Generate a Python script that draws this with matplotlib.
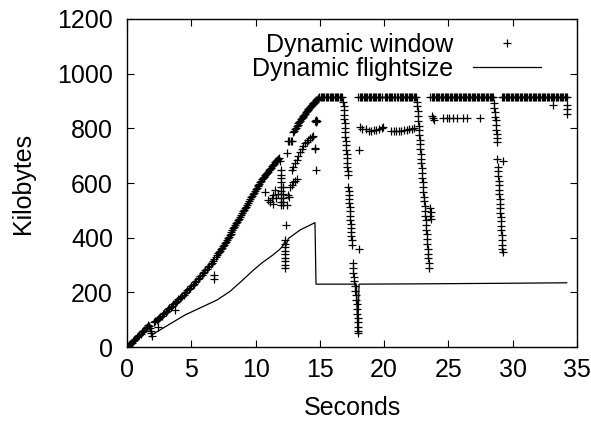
import numpy as np
import matplotlib
matplotlib.use("Agg")
import matplotlib.pyplot as plt

# Dynamic window samples (seconds, KB)
ramp_t = [0.05, 0.15, 0.25, 0.35, 0.45, 0.55, 0.65, 0.75, 0.85, 0.95, 1.05,
          1.15, 1.25, 1.35, 1.45, 1.55, 1.65,
          1.72, 1.78, 1.84, 1.9, 1.97,
          2.1, 2.2, 2.3, 2.4, 2.5, 2.6, 2.7, 2.8, 2.9, 3.0, 3.1, 3.2, 3.3, 3.4,
          3.5, 3.6, 3.7, 3.8, 3.9, 4.0, 4.1, 4.2, 4.3, 4.4, 4.5, 4.6, 4.7, 4.8,
          4.9, 5.0, 5.1, 5.2, 5.3, 5.4, 5.5, 5.6, 5.7, 5.8, 5.9, 6.0, 6.1, 6.2,
          6.3, 6.4, 6.5, 6.6, 6.7, 6.8, 6.9, 7.0,
          7.08, 7.15, 7.22, 7.3, 7.38, 7.45, 7.52, 7.6, 7.68, 7.75, 7.82, 7.9,
          7.98, 8.05, 8.12, 8.2, 8.28, 8.35, 8.42, 8.5, 8.58, 8.65, 8.72, 8.8,
          8.88, 8.95, 9.02, 9.1, 9.18, 9.25, 9.32, 9.4, 9.48, 9.55, 9.62, 9.7,
          9.78, 9.85, 9.92, 10.0, 10.08, 10.15, 10.22, 10.3, 10.38, 10.45,
          10.52, 10.6, 10.68, 10.75, 10.82, 10.9, 10.98, 11.05, 11.12, 11.2,
          11.28, 11.35, 11.42, 11.5, 11.58, 11.65, 11.72, 11.8, 11.9]
ramp_kb = [3, 7, 12, 16, 21, 26, 30, 35, 40, 44, 49,
           54, 58, 63, 69, 74, 82,
           78, 70, 60, 50, 41,
           92, 95, 99, 103, 107, 111, 115, 119, 124, 129, 133, 138, 142, 147,
           151, 156, 160, 165, 169, 174, 178, 183, 187, 192, 197, 202, 207, 212,
           217, 222, 227, 232, 237, 243, 248, 253, 258, 264, 269, 275, 280, 286,
           291, 297, 303, 309, 315, 322, 329, 336,
           343, 348, 353, 358, 364, 369, 375, 380, 386, 392, 397, 403,
           409, 415, 421, 427, 434, 440, 446, 452, 458, 464, 470, 476,
           483, 489, 496, 502, 508, 514, 520, 527, 534, 540, 547, 553,
           559, 565, 571, 577, 583, 588, 593, 598, 603, 608,
           613, 618, 623, 628, 632, 637, 641, 646, 651, 656,
           661, 666, 671, 676, 681, 685, 688, 690, 680]

scatter_t = [2.43, 3.73, 6.8, 6.8,
             10.73, 10.99, 11.12, 11.25, 11.38, 11.38, 11.51, 11.6, 11.77,
             11.98, 11.98, 11.98, 11.98, 11.98, 11.98, 11.98, 11.98, 11.98, 11.98,
             12.16, 12.16, 12.16, 12.16, 12.16,
             12.42, 12.42, 12.55, 12.6,
             12.68, 12.81, 12.94, 13.07, 13.2,
             12.5, 12.62, 12.74, 12.86,
             14.7, 14.7, 14.7, 14.66, 14.74, 14.62, 14.62, 14.7,
             12.34, 12.25, 12.25, 12.25, 12.25, 12.25, 12.25, 12.25, 12.25, 12.25]
scatter_kb = [74, 135, 263, 248,
              568, 537, 530, 544, 556, 525, 574, 545, 560,
              647, 630, 617, 603, 585, 572, 558, 545, 532, 519,
              585, 560, 545, 530, 519,
              519, 708, 556, 548,
              586, 594, 602, 608, 615,
              753, 753, 753, 753,
              822, 827, 832, 827, 827, 726, 729, 649,
              446, 390, 378, 365, 352, 340, 327, 315, 300, 288]

lower_t = [12.81, 12.94, 13.07, 13.2, 13.33, 13.46, 13.6, 13.72, 13.85, 13.97,
           14.1, 14.23, 14.36, 14.5]
lower_kb = [647, 660, 672, 685, 700, 714, 726, 736, 745, 751,
            758, 764, 769, 773]

upper_t = [12.94, 13.0, 13.07, 13.14, 13.2, 13.27, 13.33, 13.4, 13.46, 13.53,
           13.6, 13.66, 13.72, 13.79, 13.85, 13.91, 13.97, 14.04, 14.1, 14.17,
           14.23, 14.3, 14.36, 14.43, 14.49, 14.55, 14.62, 14.68, 14.75, 14.82,
           14.88]
upper_kb = [787, 792, 798, 803, 808, 813, 818, 823, 828, 833,
            838, 842, 846, 850, 854, 858, 862, 866, 870, 874,
            878, 882, 885, 888, 891, 895, 898, 902, 905, 909,
            912]

top_t = [14.95, 15.05, 15.15, 15.25, 15.35, 15.45, 15.55, 15.65, 15.75, 15.85,
         15.95, 16.05, 16.15, 16.25, 16.35, 16.45, 16.55, 16.65, 16.72,
         18.0, 18.1, 18.2, 18.3, 18.4, 18.5, 18.6, 18.7, 18.8, 18.9, 19.0,
         19.1, 19.2, 19.3, 19.4, 19.5, 19.6, 19.7, 19.8, 20.05, 20.15, 20.25,
         20.35, 20.45, 20.55, 20.65, 20.75, 20.85, 21.0, 21.1, 21.2, 21.3,
         21.4, 21.5, 21.6, 21.7, 21.8, 21.9, 22.0, 22.1, 22.2, 22.3, 22.4, 22.5,
         23.6, 23.7, 23.8, 23.9, 24.0, 24.1, 24.2, 24.3, 24.4, 24.5, 24.6, 24.7,
         24.8, 24.9, 25.0, 25.1, 25.2, 25.3, 25.4, 25.5, 25.6, 25.7, 25.8, 25.9,
         26.0, 26.1, 26.2, 26.3, 26.4, 26.5, 26.6, 26.7, 26.8, 26.9, 27.0, 27.1,
         27.2, 27.3, 27.4, 27.5, 27.6, 27.7, 27.8, 27.9, 28.0, 28.1, 28.2, 28.3,
         28.4, 28.5,
         29.15, 29.25, 29.35, 29.45, 29.55, 29.65, 29.75, 29.85, 29.95, 30.05,
         30.15, 30.25, 30.35, 30.45, 30.55, 30.65, 30.75, 30.85, 30.95, 31.05,
         31.15, 31.25, 31.35, 31.45, 31.55, 31.65, 31.75, 31.85, 31.95, 32.05,
         32.15, 32.25, 32.35, 32.45, 32.55, 32.65, 32.75, 32.85, 32.95, 33.05,
         33.15, 33.25, 33.35, 33.45, 33.55, 33.65, 33.75, 33.85, 33.95, 34.05,
         34.15, 34.2]
top_kb = [913] * len(top_t)

drop1_t = [16.82, 16.84, 16.86, 16.88, 16.9, 16.92, 16.94, 16.96, 16.98, 17.0,
           17.02, 17.05, 17.08, 17.1, 17.13, 17.15, 17.18, 17.2,
           17.22, 17.24, 17.26, 17.28, 17.3, 17.32, 17.34, 17.36, 17.38, 17.4,
           17.42, 17.44, 17.46, 17.48, 17.5,
           18.05, 18.07,
           17.55, 17.58, 17.6, 17.65, 17.68, 17.72, 17.76, 17.8, 17.84, 17.87,
           17.9, 17.92, 17.94, 17.96, 17.97, 17.99, 18.0]
drop1_kb = [897, 882, 866, 850, 834, 818, 802, 786, 770, 754,
            738, 722, 706, 690, 674, 658, 643, 629,
            586, 571, 556, 541, 526, 511, 496, 481, 466, 451, 436,
            421, 406, 391, 375,
            357, 720,
            306, 290, 272, 255, 240, 222, 205, 190, 172, 158,
            140, 122, 105, 90, 75, 60, 50]

row2_t = [18.1, 18.3, 18.6, 18.8, 19.0, 19.2, 19.4, 19.6, 19.8, 19.95,
          20.55, 20.75, 20.95, 21.15, 21.35, 21.55, 21.75, 21.95, 22.15, 22.3]
row2_kb = [806, 799, 796, 792, 790, 793, 795, 798, 802, 806,
           789, 790, 790, 791, 792, 793, 795, 796, 798, 800]

drop2_t = [22.55, 22.58, 22.6, 22.63, 22.66, 22.68, 22.71, 22.74, 22.76, 22.79,
           22.82, 22.84, 22.87, 22.9, 22.92, 22.95, 22.98, 23.0, 23.03, 23.06,
           23.08, 23.11, 23.14, 23.16, 23.19, 23.22, 23.24, 23.27, 23.3, 23.32,
           23.35, 23.38, 23.4, 23.43, 23.46, 23.49,
           23.6, 23.64, 23.6, 23.64]
drop2_kb = [897, 880, 862, 845, 828, 810, 793, 776, 758, 741,
            724, 706, 689, 672, 654, 637, 620, 602, 585, 568,
            550, 533, 516, 498, 481, 464, 446, 429, 412, 394,
            377, 360, 342, 325, 308, 290,
            508, 495, 480, 470]

row3_t = [23.7, 23.8, 23.9, 24.6, 24.87, 25.07, 25.38, 25.64, 26.16, 26.42, 27.46]
row3_kb = [845, 838, 832, 836, 836, 836, 836, 836, 836, 836, 836]

drop3_t = [28.55, 28.58, 28.6, 28.65, 28.68, 28.7, 28.72, 28.74, 28.75, 28.76,
           28.8, 29.22, 28.85, 28.87, 28.88, 28.9, 28.92, 28.94, 28.96, 28.98,
           29.0, 29.04, 29.05, 29.06, 29.08, 29.1, 29.12, 29.14, 29.16, 29.18,
           29.2, 29.22,
           33.16, 34.2, 34.2, 34.2]
drop3_kb = [891, 875, 860, 843, 830, 812, 795, 780, 765, 751,
            687, 681, 660, 645, 625, 608, 592, 575, 560, 543,
            525, 507, 490, 476, 460, 444, 428, 410, 391, 375,
            360, 348,
            885, 885, 869, 851]

# Dynamic flightsize line
flight_t = [0, 1.75, 1.95, 4.5, 7.0, 8.0, 9.0, 9.8, 10.5, 11.3, 11.9, 12.16,
            12.29, 12.38, 12.55, 13.46, 14.62, 14.7, 17.85, 17.95, 18.05, 22.5,
            29.0, 34.2]
flight_kb = [0, 75, 45, 117, 172, 203, 245, 280, 308, 335, 358, 373,
             389, 372, 397, 428, 455, 230, 230, 50, 230, 231,
             233, 235]

win_t = np.concatenate([ramp_t, scatter_t, lower_t, upper_t, top_t, drop1_t,
                        row2_t, drop2_t, row3_t, drop3_t])
win_kb = np.concatenate([ramp_kb, scatter_kb, lower_kb, upper_kb, top_kb,
                         drop1_kb, row2_kb, drop2_kb, row3_kb, drop3_kb])

plt.rcParams['font.family'] = ['Liberation Sans', 'DejaVu Sans']
fs = 18

fig = plt.figure(figsize=(5.91, 4.25), dpi=100)
ax = fig.add_axes([0.2149, 0.1835, 0.9763 - 0.2149, 0.9553 - 0.1835])

ax.plot(win_t, win_kb, linestyle='none', marker='+', color='black',
        markersize=5.5, markeredgewidth=0.9, label='Dynamic window')
ax.plot(flight_t, flight_kb, color='black', linewidth=0.9,
        label='Dynamic flightsize')

ax.set_xlim(0, 35)
ax.set_ylim(0, 1200)
ax.set_xticks(range(0, 36, 5))
ax.set_yticks(range(0, 1201, 200))
ax.tick_params(direction='in', length=5, width=0.8, top=True, right=True,
               labelsize=fs)
ax.tick_params(axis='y', pad=10)
ax.tick_params(axis='x', pad=8)
for s in ax.spines.values():
    s.set_linewidth(1.0)

ax.set_xlabel('Seconds', fontsize=fs, labelpad=10)
ax.set_ylabel('Kilobytes', fontsize=fs, labelpad=16)

ax.legend(loc='upper right', frameon=False, markerfirst=False, numpoints=1,
          fontsize=fs, handlelength=2.7, handletextpad=0.8, labelspacing=0.0,
          borderaxespad=0.15, bbox_to_anchor=(0.95, 1.0))

fig.savefig('out.png', dpi=100)
